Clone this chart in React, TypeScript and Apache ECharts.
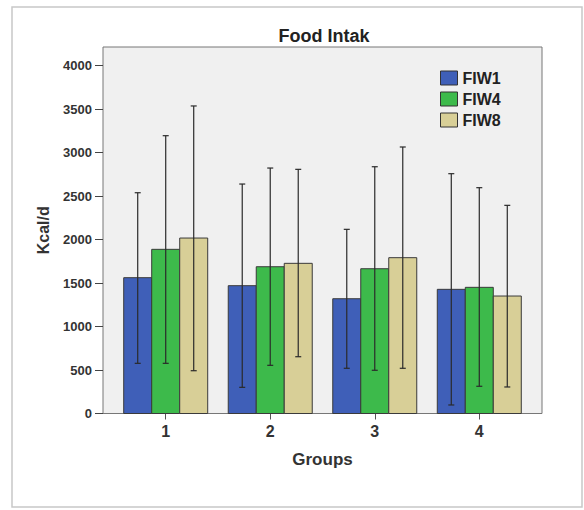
import React, { useEffect, useRef } from "react";
import * as echarts from "echarts";

const groups = [1, 2, 3, 4];
const seriesNames = ["FIW1", "FIW4", "FIW8"];
const fiw1 = [1562, 1470, 1320, 1428];
const fiw4 = [1888, 1688, 1665, 1451];
const fiw8 = [2018, 1727, 1792, 1351];
const fiw1Low = [577, 301, 520, 98];
const fiw1High = [2539, 2639, 2118, 2758];
const fiw4Low = [577, 554, 497, 313];
const fiw4High = [3195, 2823, 2838, 2597];
const fiw8Low = [492, 653, 520, 305];
const fiw8High = [3537, 2808, 3065, 2394];
const yTicks = [0, 500, 1000, 1500, 2000, 2500, 3000, 3500, 4000];

const colors = ["#3f5fb8", "#3dba4b", "#d8cf97"];
const FONT = "'Liberation Sans', Arial, sans-serif";

export default function App() {
  const ref = useRef<HTMLDivElement>(null);
  useEffect(() => {
    if (!ref.current) return;
    const chart = echarts.init(ref.current, null, { renderer: "svg" });
    const means = [fiw1, fiw4, fiw8];
    const lows = [fiw1Low, fiw4Low, fiw8Low];
    const highs = [fiw1High, fiw4High, fiw8High];
    const barW = 28;

    const series = seriesNames.map((name, si) => ({
      name,
      type: "custom",
      clip: false,
      itemStyle: { color: colors[si], borderColor: "#333", borderWidth: 1 },
      encode: { x: 0, y: 1 },
      data: groups.map((g, gi) => [g, means[si][gi], lows[si][gi], highs[si][gi]]),
      renderItem: (params: any, api: any) => {
        const x = api.value(0);
        const m = api.value(1);
        const lo = api.value(2);
        const hi = api.value(3);
        const base = api.coord([x, 0]);
        const top = api.coord([x, m]);
        const cx = base[0] + (si - 1) * barW;
        const yLo = api.coord([x, lo])[1];
        const yHi = api.coord([x, hi])[1];
        const errStyle = { stroke: "#2a2a2a", lineWidth: 1.2 };
        return {
          type: "group",
          children: [
            {
              type: "rect",
              shape: { x: cx - barW / 2, y: top[1], width: barW, height: base[1] - top[1] },
              style: { fill: colors[si], stroke: "#3a3a3a", lineWidth: 1 },
            },
            { type: "line", shape: { x1: cx, y1: yHi, x2: cx, y2: yLo }, style: errStyle },
            { type: "line", shape: { x1: cx - 3, y1: yHi, x2: cx + 3, y2: yHi }, style: errStyle },
            { type: "line", shape: { x1: cx - 3, y1: yLo, x2: cx + 3, y2: yLo }, style: errStyle },
          ],
        };
      },
    }));

    chart.setOption({
      animation: false,
      backgroundColor: "#ffffff",
      textStyle: { fontFamily: FONT },
      graphic: [
        {
          type: "rect",
          shape: { x: 12, y: 7, width: 570, height: 500 },
          style: { fill: "none", stroke: "#c8c8c8", lineWidth: 1.5 },
          z: -10,
        },
        {
          type: "text",
          x: 324,
          y: 36,
          style: {
            text: "Food Intak",
            font: `bold 18px ${FONT}`,
            fill: "#222",
            textAlign: "center",
            textVerticalAlign: "middle",
          },
        },
      ],
      legend: {
        orient: "vertical",
        left: 435,
        top: 65,
        itemWidth: 17,
        itemHeight: 14,
        itemGap: 5,
        icon: "rect",
        textStyle: { fontFamily: FONT, fontWeight: "bold", fontSize: 16, color: "#222" },
        data: seriesNames.map((n, i) => ({
          name: n,
          itemStyle: { color: colors[i], borderColor: "#333", borderWidth: 1 },
        })),
      },
      grid: {
        left: 103,
        top: 47,
        width: 439,
        height: 366.5,
        show: true,
        backgroundColor: "#f0f0f0",
        borderColor: "#777",
        borderWidth: 1,
      },
      xAxis: {
        type: "value",
        min: 0.4,
        max: 4.6,
        name: "Groups",
        nameLocation: "middle",
        nameGap: 37,
        nameTextStyle: { fontFamily: FONT, fontWeight: "bold", fontSize: 17, color: "#333" },
        axisLine: { show: false },
        splitLine: { show: false },
        axisTick: { show: true, length: 6, customValues: groups, lineStyle: { color: "#555" } },
        axisLabel: {
          customValues: groups,
          margin: 10,
          fontFamily: FONT,
          fontWeight: "bold",
          fontSize: 16,
          color: "#333",
          formatter: (v: number) => String(v),
        },
      },
      yAxis: {
        type: "value",
        min: 0,
        max: 4215,
        name: "Kcal/d",
        nameLocation: "middle",
        nameGap: 52,
        nameTextStyle: { fontFamily: FONT, fontWeight: "bold", fontSize: 16, color: "#333" },
        axisLine: { show: false },
        splitLine: { show: false },
        axisTick: { show: true, length: 8, customValues: yTicks, lineStyle: { color: "#444" } },
        axisLabel: {
          customValues: yTicks,
          margin: 11,
          fontFamily: FONT,
          fontWeight: "bold",
          fontSize: 13,
          color: "#333",
          formatter: (v: number) => String(v),
        },
      },
      series,
    });
    return () => chart.dispose();
  }, []);
  return (
    <div
      ref={ref}
      style={{ position: "absolute", left: 0, top: 0, width: 584, height: 510 }}
    />
  );
}
